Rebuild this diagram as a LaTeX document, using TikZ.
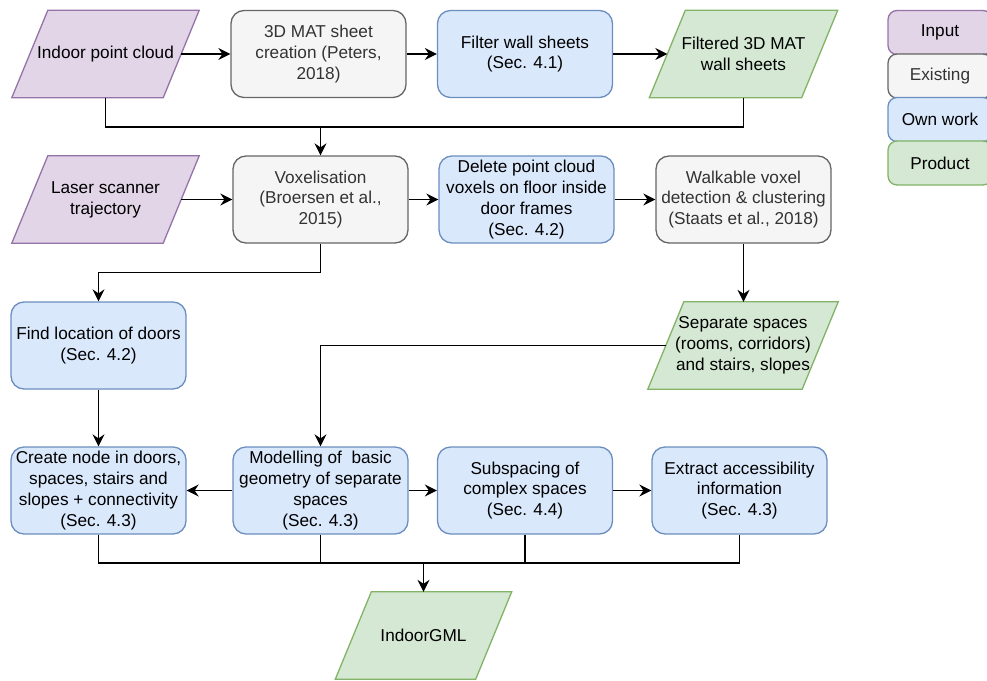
\documentclass[tikz,border=0pt]{standalone}
\usepackage{fontspec}
\setmainfont{Liberation Sans}
\usetikzlibrary{arrows.meta,calc}
\pgfdeclarelayer{background}
\pgfsetlayers{background,main}

\definecolor{inputfill}{HTML}{E1D5E7}
\definecolor{inputline}{HTML}{9673A6}
\definecolor{existfill}{HTML}{F5F5F5}
\definecolor{existline}{HTML}{666666}
\definecolor{existtext}{HTML}{333333}
\definecolor{ownfill}{HTML}{DAE8FC}
\definecolor{ownline}{HTML}{6C8EBF}
\definecolor{prodfill}{HTML}{D5E8D4}
\definecolor{prodline}{HTML}{82B366}

\tikzset{
  every node/.style={font=\fontsize{17.2}{20.8}\selectfont, align=center},
  box/.style={rectangle, rounded corners=13pt, minimum width=175pt,
    minimum height=87pt, line width=1.3pt, inner sep=2pt},
  own/.style={box, draw=ownline, fill=ownfill},
  existing/.style={box, draw=existline, fill=existfill, text=existtext},
  slanttext/.style={rectangle, minimum height=87pt, inner sep=0pt},
  legend/.style={rectangle, rounded corners=9pt, minimum width=104pt,
    minimum height=44pt, line width=1.3pt, inner sep=0pt},
  conn/.style={line width=1.4pt},
  arr/.style={conn, -{Stealth[length=12pt, width=12pt, inset=4pt]}},
}

% parallelogram outline behind a text node
\newcommand{\drawslant}[3]{%
  \begin{pgfonlayer}{background}
    \draw[line width=1.3pt, draw=#2, fill=#3]
      ($(#1.south west)+(-18,0)$) -- ($(#1.north west)+(18,0)$) --
      ($(#1.north east)+(18,0)$) -- ($(#1.south east)+(-18,0)$) -- cycle;
  \end{pgfonlayer}}

\begin{document}
\begin{tikzpicture}[x=1pt, y=-1pt]
\useasboundingbox (0,0) rectangle (987,680);

% ---- first row
\node[slanttext, minimum width=151pt] (ipc) at (105.5,54) {Indoor point cloud};
\drawslant{ipc}{inputline}{inputfill}
\node[existing] (mat) at (318.5,54) {3D MAT sheet\\creation (Peters,\\2018)};
\node[own] (filter) at (525,54) {Filter wall sheets\\(Sec. 4.1)};
\node[slanttext, minimum width=152pt] (fmat) at (743.5,54) {Filtered 3D MAT\\wall sheets};
\drawslant{fmat}{prodline}{prodfill}

% ---- second row
\node[slanttext, minimum width=151pt] (laser) at (105.5,199.5) {Laser scanner\\trajectory};
\drawslant{laser}{inputline}{inputfill}
\node[existing] (vox) at (320.5,199.5) {Voxelisation\\(Broersen et al.,\\2015)};
\node[own] (del) at (526.5,199.5) {Delete point cloud\\voxels on floor inside\\door frames\\(Sec. 4.2)};
\node[existing] (walk) at (743.5,199.5) {Walkable voxel\\detection \& clustering\\(Staats et al., 2018)};

% ---- third row
\node[own] (find) at (98.5,345.5) {Find location of doors\\(Sec. 4.2)};
\node[slanttext, minimum width=154pt] (sep) at (743,345.5) {Separate spaces\\(rooms, corridors)\\and stairs, slopes};
\drawslant{sep}{prodline}{prodfill}

% ---- fourth row
\node[own] (create) at (98.5,490.5) {Create node in doors,\\spaces, stairs and\\slopes + connectivity\\(Sec. 4.3)};
\node[own] (model) at (320.5,490.5) {Modelling of~ basic\\geometry of separate\\spaces\\(Sec. 4.3)};
\node[own] (sub) at (525,490.5) {Subspacing of\\complex spaces\\(Sec. 4.4)};
\node[own] (extract) at (739.5,490.5) {Extract accessibility\\information\\(Sec. 4.3)};

% ---- result
\node[slanttext, minimum width=140pt] (igml) at (423.5,635.5) {IndoorGML};
\drawslant{igml}{prodline}{prodfill}

% ---- legend
\node[legend, draw=inputline, fill=inputfill] (lin) at (940,32.5) {Input};
\node[legend, draw=existline, fill=existfill, text=existtext] (lex) at (940,76) {Existing};
\node[legend, draw=ownline, fill=ownfill] (low) at (940,119.5) {Own work};
\node[legend, draw=prodline, fill=prodfill] (lpr) at (940,163) {Product};

% ---- connectors
\coordinate (j1) at (320.5,127);
\coordinate (j2) at (423.5,563);

\draw[arr] (ipc) -- (mat);
\draw[arr] (mat) -- (filter);
\draw[arr] (filter) -- (fmat);
\draw[conn] (ipc.south) |- (j1) -| (fmat.south);
\draw[arr] (j1) -- (vox.north);

\draw[arr] (laser) -- (vox);
\draw[arr] (vox) -- (del);
\draw[arr] (del) -- (walk);
\draw[arr] (walk.south) -- (walk.south |- sep.north);
\draw[arr] (vox.south) |- ($(vox.south)!0.5!(find.north)$) -| (find.north);

\draw[arr] (sep.west) -| (model.north);
\draw[arr] (find) -- (create);

\draw[arr] (model) -- (create);
\draw[arr] (model) -- (sub);
\draw[arr] (sub) -- (extract);

\draw[conn] (create.south) |- (j2) -| (extract.south);
\draw[conn] (model.south) -- (model.south |- j2);
\draw[conn] (sub.south) -- (sub.south |- j2);
\draw[arr] (j2) -- (igml.north);
\end{tikzpicture}
\end{document}
